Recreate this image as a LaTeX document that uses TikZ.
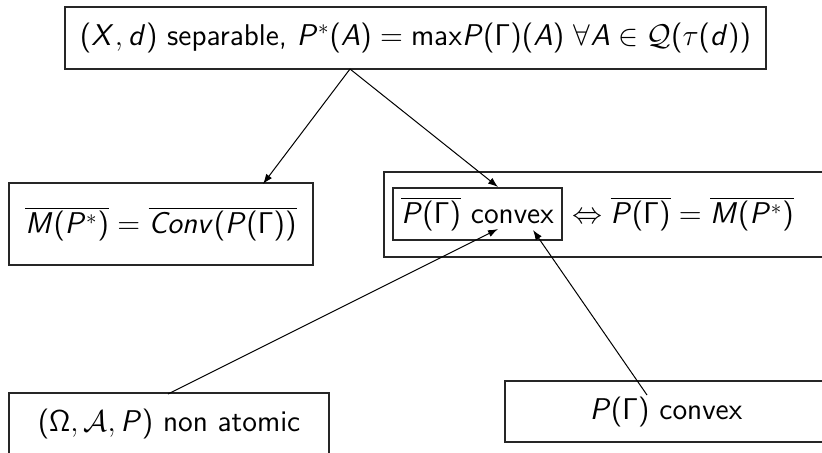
\RequirePackage{fix-cm}
\documentclass[tikz,border=0pt]{standalone}
\usetikzlibrary{arrows.meta}
\DeclareSymbolFont{sfletters}{OT1}{cmss}{m}{sl}
\SetSymbolFont{operators}{normal}{OT1}{cmss}{m}{n}
\makeatletter
\@tempcnta=`A
\loop
  \mathcode\@tempcnta=\numexpr "7000+"100*\symsfletters+\@tempcnta\relax
  \advance\@tempcnta 1
\ifnum\@tempcnta<`[ \repeat
\@tempcnta=`a
\loop
  \mathcode\@tempcnta=\numexpr "7000+"100*\symsfletters+\@tempcnta\relax
  \advance\@tempcnta 1
\ifnum\@tempcnta<`\{ \repeat
\makeatother
\tikzset{
  box/.style={draw=black!85, line width=0.6pt, inner sep=0pt},
  txt/.style={font=\fontsize{15}{18}\selectfont\sffamily, inner sep=0pt},
  conn/.style={draw=black, line width=0.5pt, -{Latex[length=5pt,width=3.6pt]}}
}
\begin{document}
\begin{tikzpicture}[x=0.5pt, y=-0.5pt]
\useasboundingbox (0,0) rectangle (822,452);
\clip (0,0) rectangle (822,452);
% boxes
\node[box, txt, minimum width=350.5pt, minimum height=31pt] (top) at (415.5,38)
  {$(X,d)$ separable, $P^*(A) = \mathrm{max}P(\Gamma)(A)\ \forall A \in \mathcal{Q}(\tau(d))$};
\node[box, txt, minimum width=152pt, minimum height=41pt] (left) at (161,224)
  {$\overline{M(P^*)} = \overline{Conv(P(\Gamma))}$};
\node[box, minimum width=228pt, minimum height=42.5pt] (right) at (612,214.5) {};
\node[box, txt, minimum width=84.5pt, minimum height=26pt] (inner) at (477.5,214)
  {$\overline{P(\Gamma)}$ convex};
\node[txt, anchor=west] (equiv) at (572,214)
  {$\Leftrightarrow \overline{P(\Gamma)} = \overline{M(P^*)}$};
\node[box, txt, minimum width=160pt, minimum height=31pt] (nonat) at (169,424)
  {$(\Omega,\mathcal{A},P)$ non atomic};
\node[box, txt, minimum width=161pt, minimum height=30.5pt] (conv) at (666,411.5)
  {$P(\Gamma)$ convex};
% connector ends
\coordinate (ts) at (350,69);
\coordinate (la) at (263,184);
\coordinate (ra) at (498,187);
\coordinate (cs) at (168,394);
\coordinate (ce) at (498,229);
\coordinate (ds) at (647,395);
\coordinate (de) at (533,230);
\draw[conn] (ts) -- (la);
\draw[conn] (ts) -- (ra);
\draw[conn] (cs) -- (ce);
\draw[conn] (ds) -- (de);
\end{tikzpicture}
\end{document}
